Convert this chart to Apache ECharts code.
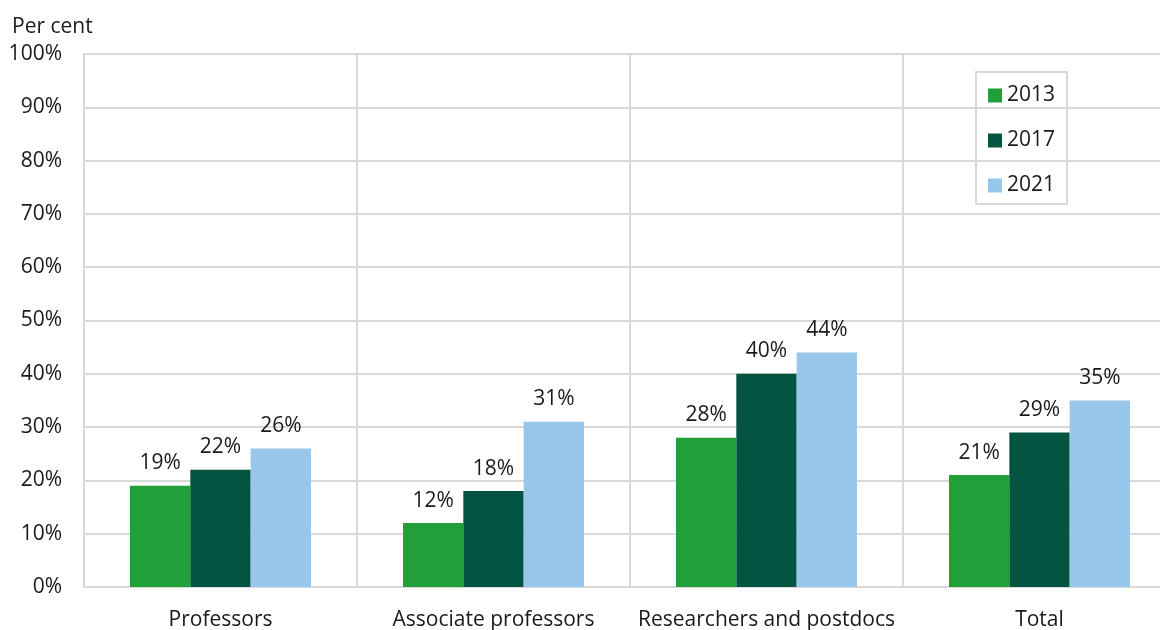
<!DOCTYPE html>
<html>
<head>
<meta charset="utf-8">
<script src="https://cdn.jsdelivr.net/npm/echarts@6/dist/echarts.min.js"></script>
<style>
  html, body { margin: 0; padding: 0; background: #ffffff; }
  #chart { width: 1160px; height: 630px; }
</style>
</head>
<body>
<div id="chart"></div>
<script>
// Staff groups and the share (per cent) in each survey year
const categories = ['Professors', 'Associate professors', 'Researchers and postdocs', 'Total'];
const years = ['2013', '2017', '2021'];
const values2013 = [19, 12, 28, 21];
const values2017 = [22, 18, 40, 29];
const values2021 = [26, 31, 44, 35];
const yTicks = [0, 10, 20, 30, 40, 50, 60, 70, 80, 90, 100];
const colors = ['#21a039', '#035541', '#98c7eb'];

const font = '"Open Sans", "Noto Sans", sans-serif';
const fontSize = 21;
const gridColor = '#d9d9d9';
const textColor = '#1a1a1a';

function barSeries(name, data, color) {
  return {
    name: name,
    type: 'bar',
    data: data,
    barGap: '0%',
    barCategoryGap: '33.7%',
    itemStyle: { color: color },
    label: {
      show: true,
      position: 'top',
      distance: 12,
      formatter: '{c}%',
      fontFamily: font,
      fontSize: fontSize,
      color: textColor
    }
  };
}

const chart = echarts.init(document.getElementById('chart'), null, { renderer: 'canvas' });
chart.setOption({
  animation: false,
  backgroundColor: '#ffffff',
  textStyle: { fontFamily: font },
  title: {
    text: 'Per cent',
    left: 12,
    top: 17,
    padding: 0,
    textStyle: { fontFamily: font, fontSize: fontSize, fontWeight: 'normal', color: textColor }
  },
  legend: {
    orient: 'vertical',
    left: 976,
    top: 72,
    data: years,
    itemWidth: 14,
    itemHeight: 14,
    itemGap: 24,
    padding: [13, 12, 8, 12],
    borderColor: gridColor,
    borderWidth: 2,
    icon: 'rect',
    textStyle: { fontFamily: font, fontSize: fontSize, color: textColor }
  },
  // the plot runs past the right edge of the canvas
  grid: {
    left: 84, top: 54, width: 1092, height: 533,
    containLabel: false,
    outerBoundsMode: 'none'
  },
  xAxis: {
    type: 'category',
    data: categories,
    axisLine: { show: true, lineStyle: { color: gridColor, width: 2 } },
    axisTick: { show: false },
    splitLine: { show: true, interval: 0, lineStyle: { color: gridColor, width: 2 } },
    axisLabel: { interval: 0, fontFamily: font, fontSize: fontSize, color: textColor, margin: 23 }
  },
  yAxis: {
    type: 'value',
    min: yTicks[0],
    max: yTicks[yTicks.length - 1],
    interval: yTicks[1] - yTicks[0],
    axisLine: { show: true, lineStyle: { color: gridColor, width: 2 } },
    axisTick: { show: false },
    splitLine: { show: true, lineStyle: { color: gridColor, width: 2 } },
    axisLabel: {
      fontFamily: font, fontSize: fontSize, color: textColor, margin: 22,
      formatter: function (v) { return v + '%'; }
    }
  },
  series: [
    barSeries(years[0], values2013, colors[0]),
    barSeries(years[1], values2017, colors[1]),
    barSeries(years[2], values2021, colors[2])
  ]
});
</script>
</body>
</html>
